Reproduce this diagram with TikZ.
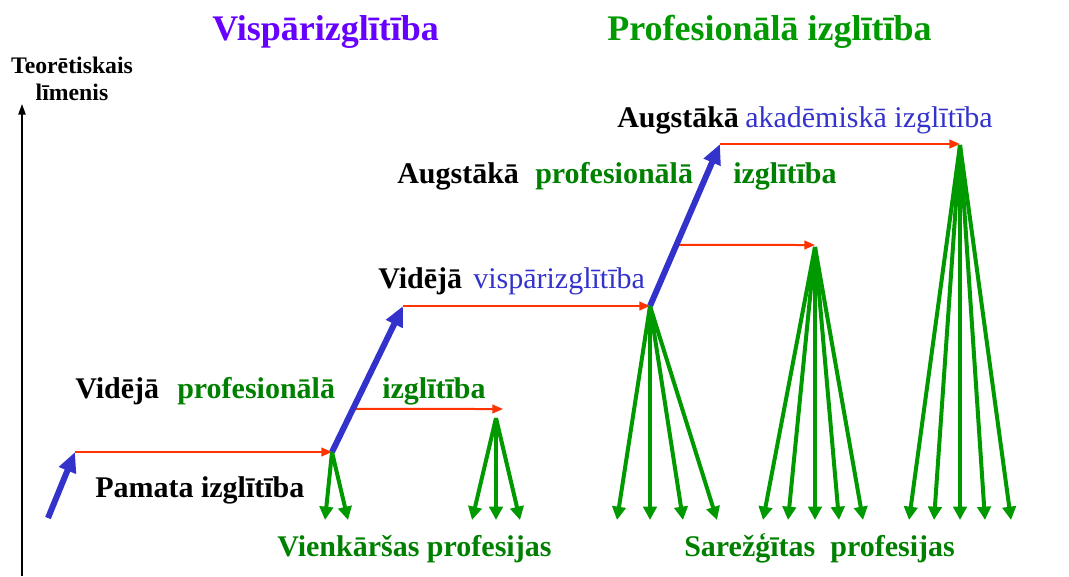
\documentclass[tikz,border=0pt]{standalone}
\usepackage{fontspec}
\setmainfont{Liberation Serif}
\usetikzlibrary{arrows.meta, calc}

\definecolor{stepblue}{RGB}{51,51,204}
\definecolor{flowred}{RGB}{255,51,0}
\definecolor{fangreen}{RGB}{0,153,0}
\definecolor{labelgreen}{RGB}{0,128,0}
\definecolor{titleviolet}{RGB}{102,0,255}

\begin{document}
\begin{tikzpicture}[x=0.75pt, y=-0.75pt,
  txt/.style={anchor=base west, inner sep=0pt, font=\fontsize{22.5}{27}\selectfont\bfseries},
  plain/.style={anchor=base west, inner sep=0pt, font=\fontsize{22.5}{27}\selectfont, text=stepblue},
  heading/.style={anchor=base west, inner sep=0pt, font=\fontsize{27}{32}\selectfont\bfseries},
  small/.style={anchor=base, inner sep=0pt, font=\fontsize{17.8}{21}\selectfont\bfseries},
  axis/.style={line width=1.1pt, -{Triangle[length=8pt, width=5.5pt]}},
  climb/.style={stepblue, line width=4.5pt, -{Triangle[length=15pt, width=13pt]}},
  flow/.style={flowred, line width=1.5pt, -{Triangle[length=8pt, width=6.5pt]}},
  fan/.style={fangreen, line width=3pt, -{Triangle[length=10pt, width=10pt]}}]
\useasboundingbox (0,0) rectangle (1069,576);

% Headings and axis
\node[heading, text=titleviolet] (general) at (212,40) {Vispārizglītība};
\node[heading, text=fangreen] (vocational) at (607,40) {Profesionālā izglītība};
\node[small] (theory) at (72,73) {Teorētiskais};
\node[small] (level) at (72,100) {līmenis};
\coordinate (ax0) at (22,576);
\coordinate (ax1) at (22,104);
\draw[axis] (ax0) -- (ax1);

% Steps of the ladder
\coordinate (s0) at (48,518);
\coordinate (s1) at (75,452);
\coordinate (s2) at (332,452);
\coordinate (s3) at (403,306);
\coordinate (s4) at (650,306);
\coordinate (s5) at (720,144);
\coordinate (r2a) at ($(s2)!0.295!(s3)$);
\coordinate (r2b) at (503,409);
\coordinate (r4a) at ($(s4)!0.377!(s5)$);
\coordinate (r4b) at (815,245);
\coordinate (r5b) at (960,144);

\draw[flow] (s1) -- (s2);
\draw[flow] (r2a) -- (r2b);
\draw[flow] (s3) -- (s4);
\draw[flow] (r4a) -- (r4b);
\draw[flow] (s5) -- (r5b);

\draw[climb] (s0) -- (s1);
\draw[climb] (s2) -- (s3);
\draw[climb] (s4) -- (s5);

% Professions
\coordinate (f2) at (496,418);
\coordinate (f4) at (815,247);
\coordinate (f5) at (960,145);
\foreach \x [count=\i] in {325,348} {
  \coordinate (pa\i) at (\x,520);
  \draw[fan] (s2) -- (pa\i);
}
\foreach \x [count=\i] in {472,496,520} {
  \coordinate (pb\i) at (\x,520);
  \draw[fan] (f2) -- (pb\i);
}
\foreach \x [count=\i] in {617,650,683,717} {
  \coordinate (pc\i) at (\x,520);
  \draw[fan] (s4) -- (pc\i);
}
\foreach \x [count=\i] in {763,788,815,839,863} {
  \coordinate (pd\i) at (\x,520);
  \draw[fan] (f4) -- (pd\i);
}
\foreach \x [count=\i] in {909,934,960,985,1011} {
  \coordinate (pe\i) at (\x,520);
  \draw[fan] (f5) -- (pe\i);
}

% Labels
\node[txt] (basic) at (95,497) {Pamata izglītība};
\node[txt] (midA) at (75,398) {Vidējā};
\node[txt, text=labelgreen] (midB) at (177,398) {profesionālā};
\node[txt, text=labelgreen] (midC) at (382,398) {izglītība};
\node[txt] (genA) at (378,288) {Vidējā};
\node[plain] (genB) at (473,288) {vispārizglītība};
\node[txt] (highA) at (397,183) {Augstākā};
\node[txt, text=labelgreen] (highB) at (535,183) {profesionālā};
\node[txt, text=labelgreen] (highC) at (733,183) {izglītība};
\node[txt] (acadA) at (617,127) {Augstākā};
\node[plain] (acadB) at (745,127) {akadēmiskā izglītība};
\node[txt, text=labelgreen] (simple) at (277,556) {Vienkāršas profesijas};
\node[txt, text=labelgreen] (complex) at (684,556) {Sarežģītas~ profesijas};
\end{tikzpicture}
\end{document}
